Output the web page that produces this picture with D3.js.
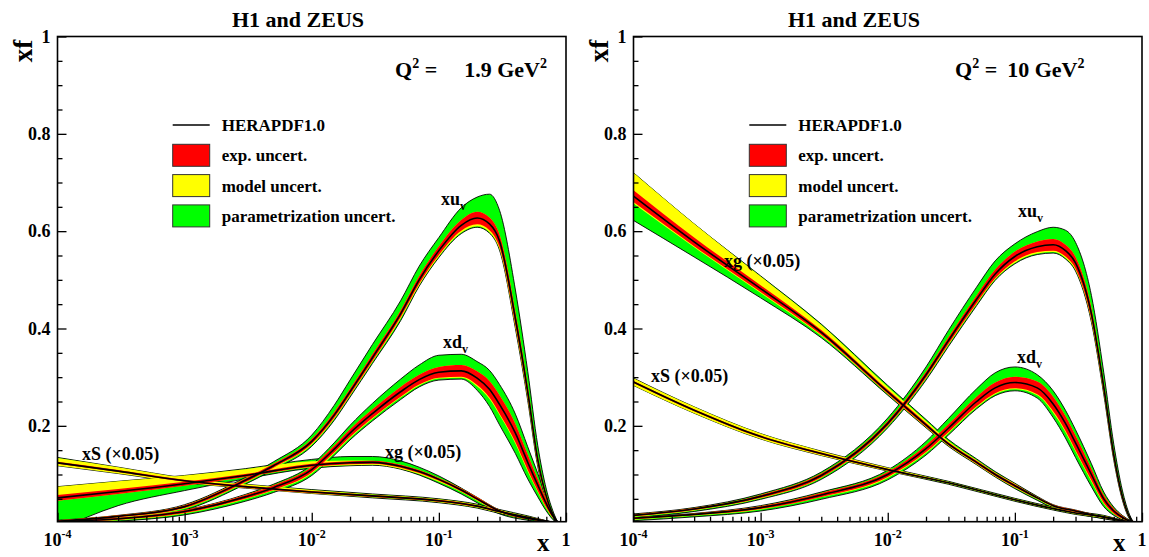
<!DOCTYPE html>
<html>
<head>
<meta charset="utf-8">
<script src="https://cdn.jsdelivr.net/npm/d3@7"></script>
<style>
  body { margin: 0; background: #fff; }
  svg { display: block; }
  text { font-family: "Liberation Serif", "Times New Roman", "DejaVu Serif", serif; font-weight: bold; fill: #000; }
</style>
</head>
<body>
<svg id="chart" width="1149" height="557"></svg>
<script>
// rows: [x, central, exp half-width, model down, model up, param down, param up]
// Q2 = 1.9 GeV2
const uv19 = [
  [1e-4, .004, .002, .001, 0, .002, 0], [3e-4, .014, .002, .001, 0, .003, 0],
  [1e-3, .034, .003, .001, 0, .003, .001], [3e-3, .088, .004, .001, 0, .003, .002],
  [5e-3, .118, .004, .001, 0, .003, .004], [0.01, .168, .005, .002, 0, .003, .008],
  [0.015, .222, .006, .002, 0, .003, .014], [0.02, .27, .006, .002, 0, .003, .018],
  [0.03, .34, .007, .002, 0, .003, .02], [0.05, .43, .007, .003, 0, .004, .02],
  [0.07, .50, .008, .003, 0, .002, .02], [0.1, .56, .009, .003, 0, .002, .018],
  [0.15, .612, .011, .004, 0, .002, .025], [0.2, .627, .013, .004, 0, .002, .03],
  [0.25, .615, .013, .004, 0, .002, .048], [0.3, .58, .013, .004, 0, .002, .05],
  [0.4, .42, .014, .004, 0, .002, .045], [0.5, .27, .012, .004, 0, .002, .03],
  [0.6, .13, .009, .003, 0, .002, .02], [0.7, .055, .005, .002, 0, .001, .01],
  [0.8, .015, .002, .001, 0, .001, .004], [0.87, 0, 0, 0, 0, 0, 0]
];
const dv19 = [
  [1e-4, .003, .002, .001, 0, .002, 0], [3e-4, .009, .002, .001, 0, .002, 0],
  [1e-3, .024, .003, .001, 0, .003, 0], [3e-3, .054, .004, .001, 0, .004, .001],
  [5e-3, .073, .005, .001, 0, .004, .002], [0.01, .11, .006, .002, 0, .004, .004],
  [0.015, .152, .007, .002, 0, .004, .006], [0.02, .185, .008, .002, 0, .004, .008],
  [0.03, .225, .009, .002, 0, .004, .012], [0.05, .27, .01, .002, 0, .004, .016],
  [0.07, .295, .01, .002, 0, .003, .02], [0.1, .31, .011, .002, 0, .003, .024],
  [0.15, .313, .012, .002, 0, .003, .022], [0.2, .298, .014, .003, 0, .008, .02],
  [0.25, .275, .017, .003, 0, .015, .022], [0.3, .244, .019, .003, 0, .02, .022],
  [0.4, .185, .019, .003, 0, .02, .02], [0.5, .125, .016, .003, 0, .015, .016],
  [0.6, .078, .012, .002, 0, .01, .012], [0.7, .04, .008, .002, 0, .005, .006],
  [0.8, .012, .003, .001, 0, .002, .002], [0.87, 0, 0, 0, 0, 0, 0]
];
const g19 = [
  [1e-4, .052, .006, 0, .017, .06, 0], [3e-4, .065, .005, 0, .016, .024, 0],
  [1e-3, .081, .004, 0, .013, .01, 0], [3e-3, .098, .003, 0, .01, .004, .001],
  [0.01, .119, .003, .001, .005, .002, .004], [0.02, .124, .003, .002, .002, .001, .008],
  [0.03, .125, .003, .002, 0, .001, .009], [0.05, .117, .003, .002, 0, .001, .008],
  [0.07, .106, .003, .002, 0, .002, .006], [0.1, .09, .003, .002, 0, .003, .004],
  [0.15, .068, .003, .001, 0, .004, .001], [0.2, .05, .003, .001, 0, .004, 0],
  [0.3, .025, .002, .001, 0, .003, 0], [0.5, .01, .002, 0, 0, .002, 0],
  [0.7, .004, .001, 0, 0, .001, 0], [0.87, 0, 0, 0, 0, 0, 0]
];
const S19 = [
  [1e-4, .124, .002, .004, .008, 0, .001], [3e-4, .107, .002, .003, .006, 0, 0],
  [1e-3, .087, .002, .002, .004, 0, 0], [3e-3, .075, .002, .001, .003, 0, 0],
  [0.01, .064, .002, .001, .002, 0, .001], [0.03, .056, .002, .001, .001, .001, .001],
  [0.1, .046, .002, .001, .001, .001, .001], [0.2, .035, .002, .001, .001, .001, .001],
  [0.3, .024, .002, .001, .001, .001, .001], [0.5, .012, .001, .001, .001, .001, .001],
  [0.7, .004, .001, 0, 0, 0, 0], [0.87, 0, 0, 0, 0, 0, 0]
];
// Q2 = 10 GeV2
const uv10 = [
  [1e-4, .016, .002, .001, 0, .002, .001], [3e-4, .029, .002, .001, 0, .002, .001],
  [1e-3, .055, .003, .001, 0, .002, .002], [3e-3, .098, .004, .001, 0, .003, .003],
  [0.01, .205, .005, .001, 0, .003, .006], [0.02, .305, .006, .002, 0, .003, .01],
  [0.03, .375, .007, .002, 0, .003, .014], [0.05, .46, .008, .002, 0, .003, .017],
  [0.07, .512, .009, .002, 0, .002, .018], [0.1, .548, .01, .003, 0, .002, .016],
  [0.15, .568, .011, .003, 0, .002, .02], [0.2, .572, .012, .003, 0, .002, .024],
  [0.25, .56, .012, .003, 0, .002, .03], [0.3, .535, .012, .003, 0, .002, .03],
  [0.4, .43, .012, .003, 0, .002, .026], [0.5, .28, .01, .003, 0, .002, .02],
  [0.6, .14, .008, .002, 0, .001, .014], [0.7, .055, .005, .001, 0, .001, .008],
  [0.8, .012, .002, .001, 0, .001, .003], [0.87, 0, 0, 0, 0, 0, 0]
];
const dv10 = [
  [1e-4, .01, .002, .001, 0, .002, 0], [3e-4, .018, .002, .001, 0, .002, 0],
  [1e-3, .032, .003, .001, 0, .003, .001], [3e-3, .058, .004, .001, 0, .004, .002],
  [0.01, .1, .005, .002, 0, .004, .004], [0.02, .153, .007, .002, 0, .004, .008],
  [0.03, .195, .008, .002, 0, .004, .012], [0.05, .25, .01, .002, 0, .003, .016],
  [0.07, .278, .011, .002, 0, .003, .02], [0.1, .289, .012, .002, 0, .003, .02],
  [0.15, .278, .013, .002, 0, .006, .014], [0.2, .245, .015, .003, 0, .01, .012],
  [0.25, .205, .015, .003, 0, .012, .012], [0.3, .165, .015, .003, 0, .012, .012],
  [0.4, .1, .012, .003, 0, .01, .01], [0.5, .05, .008, .002, 0, .006, .006],
  [0.6, .025, .005, .001, 0, .003, .003], [0.7, .012, .003, .001, 0, .001, .001],
  [0.8, .004, .001, 0, 0, .001, .001], [0.87, 0, 0, 0, 0, 0, 0]
];
const g10 = [
  [1e-4, .672, .012, .003, .036, .035, 0], [3e-4, .578, .009, .002, .028, .02, 0],
  [1e-3, .482, .007, .002, .018, .01, .001], [3e-3, .392, .005, .002, .01, .004, .002],
  [0.01, .27, .004, .001, .006, .002, .003], [0.02, .202, .004, .001, .004, .001, .003],
  [0.03, .163, .003, .001, .003, .001, .003], [0.05, .125, .003, .001, .002, .001, .002],
  [0.07, .1, .003, .001, .001, .001, .002], [0.1, .077, .003, .001, .001, .002, .001],
  [0.15, .052, .002, .001, 0, .002, .001], [0.2, .036, .002, .001, 0, .002, 0],
  [0.3, .025, .002, .001, 0, .002, 0], [0.5, .012, .001, .001, 0, .001, 0],
  [0.7, .005, .001, 0, 0, .001, 0], [0.87, 0, 0, 0, 0, 0, 0]
];
const S10 = [
  [1e-4, .29, .002, .005, .006, 0, 0], [3e-4, .232, .002, .004, .005, 0, 0],
  [1e-3, .178, .002, .003, .004, 0, 0], [3e-3, .143, .002, .002, .003, 0, 0],
  [0.01, .11, .002, .001, .002, 0, 0], [0.03, .083, .001, .001, .001, .001, .001],
  [0.1, .048, .001, .001, .001, .001, .001], [0.2, .03, .001, .001, .001, .001, .001],
  [0.3, .021, .001, .001, .001, .001, .001], [0.5, .013, .001, .001, .001, .001, .001],
  [0.7, .005, .001, 0, 0, 0, 0], [0.87, 0, 0, 0, 0, 0, 0]
];

const xTicks = [1e-4, 1e-3, 1e-2, 1e-1, 1];
const xTickExp = ["-4", "-3", "-2", "-1", ""];
const yTicks = [0.2, 0.4, 0.6, 0.8, 1];
const legendItems = ["HERAPDF1.0", "exp. uncert.", "model uncert.", "parametrization uncert."];
const legendColors = [null, "#ff0000", "#ffff00", "#00ff00"];

const TOP = 36.5, BOTTOM = 521.7, YMIN = 0.003;
const GREEN = "#00ff00", YELLOW = "#ffff00", RED = "#ff0000";
const FONT = "'Liberation Serif', 'Times New Roman', 'DejaVu Serif', serif";

const panels = [
  { id: "a", x0: 57.5, x1: 566, titleX: 232, q2: "1.9", q2X: 395, q2gap: 27, legX: 172.7, yTitleX: 32,
    curves: [g19, S19, dv19, uv19],
    labels: [["xu", "v", 441, 205], ["xd", "v", 443, 348], ["xg (×0.05)", "", 385, 458], ["xS (×0.05)", "", 82, 460]] },
  { id: "b", x0: 633.5, x1: 1142, titleX: 788, q2: "10", q2X: 955, q2gap: 10, legX: 749.3, yTitleX: 608,
    curves: [g10, S10, dv10, uv10],
    labels: [["xu", "v", 1018, 217], ["xd", "v", 1017, 363], ["xg (×0.05)", "", 724, 267], ["xS (×0.05)", "", 651, 382]] }
];

const svg = d3.select("#chart");
svg.append("rect").attr("width", 1149).attr("height", 557).attr("fill", "#fff");

panels.forEach(function(p) {
  const x = d3.scaleLog().domain([1e-4, 1]).range([p.x0, p.x1]);
  const y = d3.scaleLinear().domain([YMIN, 1]).range([BOTTOM, TOP]);
  const g = svg.append("g");

  g.append("clipPath").attr("id", "clip-" + p.id)
    .append("rect").attr("x", p.x0).attr("y", TOP).attr("width", p.x1 - p.x0).attr("height", BOTTOM - TOP);
  const plot = g.append("g").attr("clip-path", "url(#clip-" + p.id + ")");

  const band = (f0, f1) => d3.area().x(r => x(r[0])).y0(r => y(f0(r))).y1(r => y(f1(r))).curve(d3.curveMonotoneX);
  const green = band(r => r[1] - r[2] - r[3] - r[5], r => r[1] + r[2] + r[4] + r[6]);
  const yellow = band(r => r[1] - r[2] - r[3], r => r[1] + r[2] + r[4]);
  const red = band(r => r[1] - r[2], r => r[1] + r[2]);
  const centre = d3.line().x(r => x(r[0])).y(r => y(r[1])).curve(d3.curveMonotoneX);

  plot.selectAll("path.tot").data(p.curves).join("path").attr("class", "tot")
    .attr("d", green).attr("fill", GREEN).attr("stroke", "#000").attr("stroke-width", 0.9);
  plot.selectAll("path.mod").data(p.curves).join("path").attr("class", "mod")
    .attr("d", yellow).attr("fill", YELLOW);
  plot.selectAll("path.exp").data(p.curves).join("path").attr("class", "exp")
    .attr("d", red).attr("fill", RED);
  plot.selectAll("path.cen").data(p.curves).join("path").attr("class", "cen")
    .attr("d", centre).attr("fill", "none").attr("stroke", "#000").attr("stroke-width", 1.6);

  // frame
  g.append("rect").attr("x", p.x0).attr("y", TOP).attr("width", p.x1 - p.x0).attr("height", BOTTOM - TOP)
    .attr("fill", "none").attr("stroke", "#000").attr("stroke-width", 1.6);

  // y axis
  const yAxis = g.append("g").attr("transform", "translate(" + p.x0 + ",0)")
    .call(d3.axisLeft(y).tickValues(yTicks).tickSize(-9).tickPadding(7)
      .tickFormat(d => d === 1 ? "1" : d3.format(".1f")(d)));
  g.append("g").attr("transform", "translate(" + p.x0 + ",0)")
    .call(d3.axisLeft(y).tickValues(d3.range(0.05, 1, 0.05).filter(v => Math.abs(v * 5 - Math.round(v * 5)) > 1e-6))
      .tickSize(-5).tickFormat(""));

  // x axis
  const minor = [];
  [1e-4, 1e-3, 1e-2, 1e-1].forEach(dec => d3.range(2, 10).forEach(k => minor.push(k * dec)));
  g.append("g").attr("transform", "translate(0," + BOTTOM + ")")
    .call(d3.axisBottom(x).tickValues(xTicks).tickSize(-9).tickFormat(""));
  g.append("g").attr("transform", "translate(0," + BOTTOM + ")")
    .call(d3.axisBottom(x).tickValues(minor).tickSize(-5).tickFormat(""));

  g.selectAll(".domain").remove();
  g.selectAll(".tick line").attr("stroke", "#000").attr("stroke-width", 1.3);
  g.selectAll("g").attr("font-family", FONT);
  yAxis.selectAll("text").style("font-family", FONT).style("font-weight", "bold")
    .style("font-size", "18px").attr("fill", "#000");

  xTicks.forEach(function(t, i) {
    const tx = g.append("text").attr("x", x(t)).attr("y", 546).attr("text-anchor", "middle").style("font-size", "18px");
    if (xTickExp[i]) {
      tx.append("tspan").text("10");
      tx.append("tspan").attr("dy", -8).style("font-size", "12px").text(xTickExp[i]);
    } else {
      tx.text("1");
    }
  });

  // titles
  g.append("text").attr("x", p.titleX).attr("y", 27).style("font-size", "22px").text("H1 and ZEUS");
  g.append("text").attr("transform", "translate(" + p.yTitleX + ",51) rotate(-90)")
    .attr("text-anchor", "middle").style("font-size", "27px").text("xf");
  g.append("text").attr("x", p.x1 - 29).attr("y", 551).style("font-size", "25px").text("x");

  const q = g.append("text").attr("x", p.q2X).attr("y", 77).style("font-size", "22px");
  q.append("tspan").text("Q");
  q.append("tspan").attr("dy", -9).style("font-size", "14px").text("2");
  q.append("tspan").attr("dy", 9).text(" =");
  q.append("tspan").attr("dx", p.q2gap).text(p.q2 + " GeV");
  q.append("tspan").attr("dy", -9).style("font-size", "14px").text("2");

  // legend
  legendItems.forEach(function(name, i) {
    const cy = 125 + i * 30.3;
    if (legendColors[i] === null) {
      g.append("line").attr("x1", p.legX).attr("x2", p.legX + 37).attr("y1", cy).attr("y2", cy)
        .attr("stroke", "#000").attr("stroke-width", 1.6);
    } else {
      g.append("rect").attr("x", p.legX).attr("y", cy - 11).attr("width", 37).attr("height", 22)
        .attr("fill", legendColors[i]).attr("stroke", "#333").attr("stroke-width", 1);
    }
    g.append("text").attr("x", p.legX + 49).attr("y", cy + 6).style("font-size", "17px").text(name);
  });

  // curve labels
  p.labels.forEach(function(l) {
    const t = g.append("text").attr("x", l[2]).attr("y", l[3]).style("font-size", "18px");
    t.append("tspan").text(l[0]);
    if (l[1]) t.append("tspan").attr("dy", 5).style("font-size", "12px").text(l[1]);
  });
});
</script>
</body>
</html>
